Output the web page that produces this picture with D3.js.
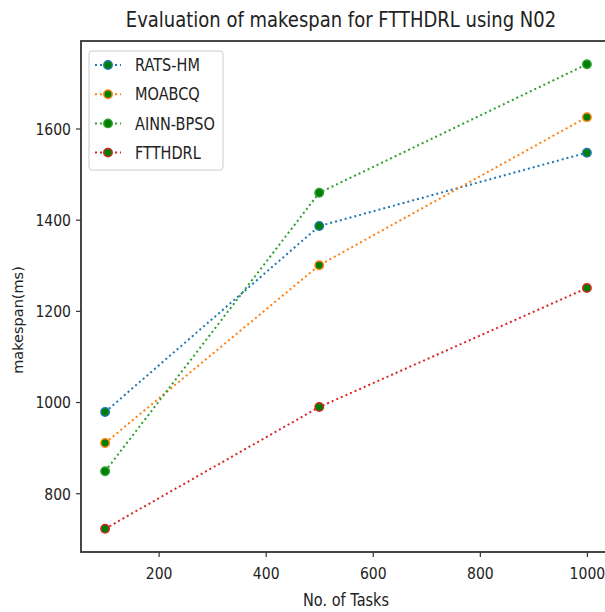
<!DOCTYPE html>
<html>
<head>
<meta charset="utf-8">
<script src="https://cdn.jsdelivr.net/npm/d3@7"></script>
<style>
  body { margin: 0; background: #fff; }
  text { font-family: "DejaVu Sans", sans-serif; fill: #222; }
</style>
</head>
<body>
<div id="chart"></div>
<script>
// data
const tasks = [100, 500, 1000]
const seriesNames = ['RATS-HM', 'MOABCQ', 'AINN-BPSO', 'FTTHDRL']
const ratsHm = [978, 1386, 1547]
const moabcq = [910, 1300, 1625]
const ainnBpso = [848, 1459, 1741]
const ftthdrl = [722, 989, 1250]
const xTicks = [200, 400, 600, 800, 1000]
const yTicks = [800, 1000, 1200, 1400, 1600]

const colors = ['#1f77b4', '#ff7f0e', '#2ca02c', '#d62728']
const markerFill = '#008000'

// the source image text looks stretched vertically
const K = 1.18

const series = seriesNames.map((name, i) => ({
  name,
  color: colors[i],
  values: [ratsHm, moabcq, ainnBpso, ftthdrl][i].map((v, j) => ({x: tasks[j], y: v}))
}))

const size = {width: 605, height: 612}
const margin = {top: 41, right: -6, bottom: 60, left: 81}
const w = size.width - margin.left - margin.right
const h = size.height - margin.top - margin.bottom

const svg = d3.select('#chart').append('svg')
  .attr('width', size.width)
  .attr('height', size.height)

const g = svg.append('g')
  .attr('transform', `translate(${[margin.left, margin.top]})`)

// matplotlib style 5% margins
const xScale = d3.scaleLinear().domain([55, 1045]).range([0, w])
const yScale = d3.scaleLinear().domain([671, 1792]).range([h, 0])

const xAxis = g.append('g')
  .attr('transform', `translate(0,${h})`)
  .call(d3.axisBottom(xScale).tickValues(xTicks).tickSize(5).tickFormat(d3.format('d')))
const yAxis = g.append('g')
  .call(d3.axisLeft(yScale).tickValues(yTicks).tickSize(5).tickPadding(5).tickFormat(d3.format('d')))

for (const ax of [xAxis, yAxis]) {
  ax.select('.domain').remove()
  ax.selectAll('.tick line').attr('stroke', '#333').attr('stroke-width', 1.2)
  ax.selectAll('.tick text').attr('font-size', 14).attr('fill', '#222')
    .attr('font-family', '"DejaVu Sans", sans-serif')
    .attr('transform', `scale(1,${K})`)
}
xAxis.selectAll('.tick text').attr('y', 27.5 / K).attr('dy', 0)
yAxis.selectAll('.tick text').attr('dy', '0.36em')

// frame
g.append('rect')
  .attr('width', w).attr('height', h)
  .attr('fill', 'none').attr('stroke', '#333').attr('stroke-width', 1.8)

const line = d3.line().x(d => xScale(d.x)).y(d => yScale(d.y))

const groups = g.selectAll('.series')
  .data(series)
  .enter().append('g')
  .attr('class', 'series')

groups.append('path')
  .attr('d', d => line(d.values))
  .attr('fill', 'none')
  .attr('stroke', d => d.color)
  .attr('stroke-width', 2)
  .attr('stroke-dasharray', '2,3')

groups.selectAll('circle')
  .data(d => d.values.map(v => ({...v, color: d.color})))
  .enter().append('circle')
  .attr('cx', d => xScale(d.x))
  .attr('cy', d => yScale(d.y))
  .attr('r', 4.2)
  .attr('fill', markerFill)
  .attr('stroke', d => d.color)
  .attr('stroke-width', 1.5)

// legend
const legend = g.append('g').attr('transform', 'translate(8,10)')
legend.append('rect')
  .attr('width', 134).attr('height', 119).attr('rx', 3)
  .attr('fill', '#fff').attr('stroke', '#ccc').attr('stroke-width', 1)

const items = legend.selectAll('.item')
  .data(series)
  .enter().append('g')
  .attr('transform', (d, i) => `translate(0,${14 + i * 29.2})`)

items.append('line')
  .attr('x1', 6).attr('x2', 32)
  .attr('stroke', d => d.color).attr('stroke-width', 2)
  .attr('stroke-dasharray', '2,3')
items.append('circle')
  .attr('cx', 19).attr('r', 4.2)
  .attr('fill', markerFill)
  .attr('stroke', d => d.color).attr('stroke-width', 1.5)
items.append('text')
  .attr('transform', `translate(46,0) scale(1,${K})`)
  .attr('dy', '0.36em')
  .attr('font-size', 14.5)
  .text(d => d.name)

// title and axis labels
svg.append('text')
  .attr('transform', `translate(341,27) scale(1,${K})`)
  .attr('text-anchor', 'middle')
  .attr('font-size', 18)
  .text('Evaluation of makespan for FTTHDRL using N02')

svg.append('text')
  .attr('transform', `translate(346,606) scale(1,${K})`)
  .attr('text-anchor', 'middle')
  .attr('font-size', 14.5)
  .text('No. of Tasks')

svg.append('text')
  .attr('transform', 'translate(23,320) rotate(-90)')
  .attr('text-anchor', 'middle')
  .attr('font-size', 14.5)
  .text('makespan(ms)')
</script>
</body>
</html>
